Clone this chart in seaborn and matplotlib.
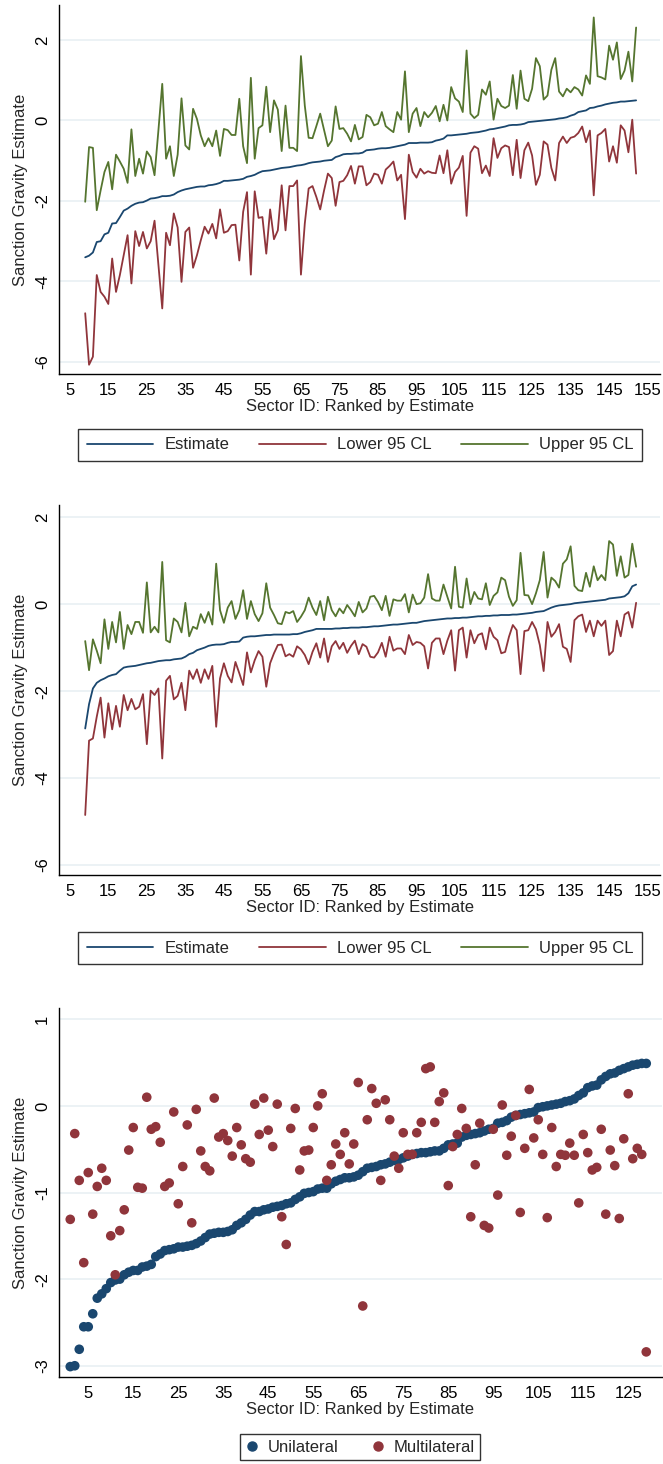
import numpy as np
import pandas as pd
import matplotlib
matplotlib.use("Agg")
import matplotlib.pyplot as plt
import seaborn as sns

# ---- data ----
sector = list(range(9, 153))

est_all = [-3.40, -3.36, -3.28, -3.02, -3.00, -2.83, -2.79, -2.56, -2.55, -2.40,
           -2.24, -2.19, -2.12, -2.07, -2.04, -2.03, -1.99, -1.94, -1.93, -1.91,
           -1.88, -1.88, -1.87, -1.84, -1.78, -1.74, -1.71, -1.69, -1.67, -1.65,
           -1.64, -1.64, -1.61, -1.60, -1.58, -1.55, -1.50, -1.50, -1.49, -1.48,
           -1.47, -1.45, -1.40, -1.38, -1.35, -1.30, -1.26, -1.25, -1.24, -1.22,
           -1.20, -1.18, -1.17, -1.16, -1.14, -1.12, -1.11, -1.09, -1.06, -1.04,
           -1.03, -1.02, -1.00, -0.99, -0.98, -0.91, -0.88, -0.84, -0.83, -0.83,
           -0.82, -0.82, -0.80, -0.74, -0.73, -0.72, -0.70, -0.69, -0.69, -0.68,
           -0.66, -0.64, -0.62, -0.60, -0.56, -0.56, -0.56, -0.55, -0.55, -0.55,
           -0.54, -0.50, -0.48, -0.45, -0.37, -0.37, -0.36, -0.35, -0.34, -0.33,
           -0.31, -0.30, -0.29, -0.27, -0.25, -0.22, -0.21, -0.19, -0.17, -0.15,
           -0.12, -0.11, -0.11, -0.10, -0.08, -0.04, -0.03, -0.02, -0.01, 0.00,
           0.01, 0.02, 0.03, 0.05, 0.06, 0.08, 0.12, 0.15, 0.21, 0.23,
           0.25, 0.31, 0.32, 0.35, 0.37, 0.40, 0.42, 0.44, 0.45, 0.47,
           0.47, 0.48, 0.49, 0.50]

lower_all = [-4.79, -6.07, -5.87, -3.84, -4.26, -4.38, -4.56, -3.43, -4.26, -3.84,
             -3.35, -2.85, -4.05, -2.75, -3.12, -2.77, -3.18, -3.00, -2.49, -3.58,
             -4.67, -2.79, -3.10, -2.31, -2.66, -4.01, -2.77, -2.66, -3.66, -3.35,
             -2.98, -2.64, -2.81, -2.57, -2.93, -2.21, -2.79, -2.75, -2.60, -2.59,
             -3.48, -2.27, -1.78, -3.83, -1.76, -2.42, -2.40, -3.31, -2.21, -2.95,
             -2.73, -1.61, -2.73, -1.63, -1.63, -1.49, -3.83, -2.56, -1.69, -1.63,
             -1.90, -2.21, -1.74, -1.32, -1.43, -2.12, -1.53, -1.50, -1.36, -1.13,
             -1.57, -1.14, -1.14, -1.61, -1.53, -1.32, -1.35, -1.57, -1.22, -1.13,
             -1.02, -1.49, -1.35, -2.45, -0.85, -1.28, -1.42, -1.20, -1.32, -1.26,
             -1.30, -1.31, -0.87, -1.31, -0.74, -1.57, -1.28, -1.17, -0.88, -2.37,
             -0.80, -0.64, -0.70, -1.31, -1.12, -1.38, -0.44, -0.93, -0.69, -0.62,
             -0.66, -1.36, -0.48, -1.43, -0.74, -0.55, -0.87, -1.60, -1.35, -0.52,
             -0.60, -1.18, -1.49, -0.56, -0.40, -0.56, -0.43, -0.40, -0.31, -0.15,
             -0.54, -0.25, -1.86, -0.37, -0.31, -0.21, -1.02, -0.64, -1.05, -0.12,
             -0.25, -0.79, 0.02, -1.32]

upper_all = [-2.02, -0.66, -0.68, -2.23, -1.74, -1.28, -1.03, -1.71, -0.85, -1.02,
             -1.20, -1.55, -0.22, -1.38, -0.95, -1.32, -0.77, -0.91, -1.36, -0.25,
             0.91, -0.95, -0.64, -1.38, -0.85, 0.55, -0.62, -0.72, 0.29, 0.04,
             -0.37, -0.64, -0.44, -0.64, -0.25, -0.88, -0.21, -0.24, -0.36, -0.36,
             0.54, -0.64, -1.06, 1.06, -0.95, -0.19, -0.12, 0.84, -0.29, 0.50,
             0.27, -0.76, 0.37, -0.68, -0.68, -0.76, 1.60, 0.37, -0.43, -0.44,
             -0.14, 0.17, -0.23, -0.64, -0.50, 0.35, -0.21, -0.19, -0.33, -0.52,
             -0.11, -0.47, -0.41, 0.14, 0.08, -0.12, -0.08, 0.21, -0.14, -0.22,
             -0.29, 0.21, 0.02, 1.22, -0.29, 0.17, 0.31, -0.14, 0.21, 0.08,
             0.19, 0.36, -0.02, 0.39, 0.00, 0.83, 0.55, 0.47, 0.21, 1.74,
             0.17, 0.06, 0.14, 0.77, 0.64, 0.97, 0.02, 0.54, 0.36, 0.31,
             0.37, 1.13, 0.29, 1.24, 0.54, 0.48, 0.79, 1.55, 1.35, 0.52,
             0.62, 1.26, 1.55, 0.72, 0.60, 0.79, 0.70, 0.83, 0.77, 0.62,
             1.12, 0.91, 2.56, 1.10, 1.07, 1.02, 1.86, 1.51, 1.94, 1.03,
             1.24, 1.71, 0.97, 2.31]

est_b = [-2.86, -2.30, -1.94, -1.81, -1.75, -1.71, -1.66, -1.63, -1.61, -1.53,
         -1.46, -1.44, -1.43, -1.42, -1.40, -1.38, -1.36, -1.35, -1.33, -1.31,
         -1.30, -1.29, -1.29, -1.27, -1.26, -1.25, -1.21, -1.15, -1.12, -1.06,
         -1.03, -1.00, -0.96, -0.94, -0.93, -0.93, -0.92, -0.89, -0.87, -0.87,
         -0.86, -0.77, -0.75, -0.74, -0.74, -0.73, -0.72, -0.71, -0.71, -0.70,
         -0.70, -0.70, -0.70, -0.70, -0.69, -0.69, -0.67, -0.64, -0.62, -0.60,
         -0.57, -0.57, -0.57, -0.57, -0.57, -0.56, -0.56, -0.55, -0.55, -0.54,
         -0.54, -0.54, -0.53, -0.53, -0.52, -0.51, -0.51, -0.50, -0.49, -0.48,
         -0.47, -0.47, -0.46, -0.45, -0.44, -0.43, -0.43, -0.41, -0.39, -0.38,
         -0.37, -0.36, -0.35, -0.34, -0.33, -0.33, -0.32, -0.32, -0.31, -0.31,
         -0.30, -0.29, -0.28, -0.28, -0.27, -0.27, -0.26, -0.26, -0.25, -0.25,
         -0.25, -0.24, -0.24, -0.23, -0.22, -0.21, -0.20, -0.18, -0.17, -0.16,
         -0.12, -0.08, -0.05, -0.03, -0.02, -0.01, 0.00, 0.02, 0.03, 0.04,
         0.05, 0.06, 0.07, 0.08, 0.09, 0.10, 0.13, 0.14, 0.15, 0.16,
         0.18, 0.25, 0.41, 0.45]

lower_b = [-4.85, -3.14, -3.09, -2.59, -2.15, -3.07, -2.28, -2.88, -2.34, -2.82,
           -2.09, -2.44, -2.18, -2.42, -2.36, -2.07, -3.22, -1.99, -2.09, -1.94,
           -3.55, -1.76, -1.65, -2.19, -2.11, -1.81, -2.44, -1.53, -1.72, -1.50,
           -1.81, -1.50, -1.72, -1.42, -2.82, -1.71, -1.36, -1.65, -1.80, -1.33,
           -1.59, -1.86, -1.11, -1.57, -1.29, -1.08, -1.21, -1.90, -1.36, -1.13,
           -0.94, -0.93, -1.20, -1.15, -1.21, -0.97, -1.04, -1.17, -1.38, -1.10,
           -0.90, -1.23, -0.79, -1.33, -0.97, -0.85, -1.03, -0.89, -1.12, -0.96,
           -0.84, -1.15, -0.92, -0.98, -1.21, -1.23, -1.11, -0.89, -1.21, -0.75,
           -1.07, -1.02, -1.02, -1.15, -0.71, -0.94, -0.87, -0.89, -0.97, -1.48,
           -0.89, -0.79, -0.79, -1.15, -0.84, -0.60, -1.53, -0.60, -0.54, -1.23,
           -0.60, -0.90, -0.71, -0.67, -1.04, -0.54, -0.75, -0.83, -1.13, -1.10,
           -0.75, -0.48, -0.60, -1.61, -0.62, -0.60, -0.41, -0.58, -0.94, -1.54,
           -0.41, -0.75, -0.64, -0.46, -0.98, -1.03, -1.33, -0.37, -0.28, -0.24,
           -0.64, -0.38, -0.74, -0.38, -0.50, -0.38, -1.17, -1.08, -0.38, -0.74,
           -0.24, -0.18, -0.54, 0.03]

upper_b = [-0.85, -1.52, -0.81, -1.07, -1.36, -0.35, -1.03, -0.41, -0.88, -0.18,
           -1.03, -0.48, -0.69, -0.41, -0.41, -0.66, 0.50, -0.65, -0.52, -0.65,
           0.97, -0.83, -0.88, -0.33, -0.41, -0.65, 0.03, -0.74, -0.52, -0.57,
           -0.23, -0.43, -0.18, -0.47, 0.93, -0.14, -0.43, -0.08, 0.07, -0.34,
           -0.14, 0.32, -0.34, 0.07, -0.23, -0.39, -0.21, 0.48, -0.08, -0.25,
           -0.44, -0.46, -0.18, -0.21, -0.16, -0.41, -0.29, -0.14, 0.15, -0.08,
           -0.25, 0.07, -0.37, 0.17, -0.14, -0.28, -0.10, -0.21, -0.02, -0.14,
           -0.28, 0.05, -0.19, -0.10, 0.17, 0.19, 0.05, -0.14, 0.19, -0.27,
           0.11, 0.08, 0.08, 0.23, -0.19, 0.22, 0.00, 0.02, 0.15, 0.69,
           0.13, 0.08, 0.08, 0.45, 0.17, -0.10, 0.86, -0.06, -0.08, 0.59,
           0.00, 0.28, 0.13, 0.11, 0.48, -0.02, 0.19, 0.27, 0.61, 0.55,
           0.17, -0.04, 0.09, 1.18, 0.21, 0.20, 0.00, 0.25, 0.55, 1.20,
           0.15, 0.61, 0.53, 0.38, 0.93, 1.03, 1.33, 0.42, 0.32, 0.30,
           0.72, 0.40, 0.87, 0.55, 0.67, 0.55, 1.45, 1.37, 0.65, 1.10,
           0.61, 0.67, 1.39, 0.86]

sector_c = list(range(1, 130))

unilateral = [-3.01, -3.00, -2.81, -2.55, -2.55, -2.40, -2.22, -2.17, -2.11, -2.04,
              -2.01, -2.00, -1.95, -1.92, -1.90, -1.90, -1.86, -1.85, -1.83, -1.74,
              -1.71, -1.67, -1.66, -1.65, -1.63, -1.63, -1.62, -1.61, -1.59, -1.56,
              -1.52, -1.48, -1.47, -1.46, -1.46, -1.45, -1.43, -1.38, -1.35, -1.31,
              -1.26, -1.22, -1.22, -1.20, -1.19, -1.17, -1.16, -1.15, -1.13, -1.12,
              -1.08, -1.05, -1.01, -1.00, -0.99, -0.96, -0.95, -0.95, -0.90, -0.87,
              -0.85, -0.83, -0.83, -0.82, -0.80, -0.76, -0.72, -0.71, -0.70, -0.68,
              -0.67, -0.65, -0.63, -0.62, -0.60, -0.58, -0.56, -0.55, -0.54, -0.54,
              -0.53, -0.52, -0.52, -0.49, -0.45, -0.44, -0.43, -0.36, -0.34, -0.33,
              -0.32, -0.31, -0.29, -0.27, -0.26, -0.20, -0.19, -0.17, -0.13, -0.11,
              -0.10, -0.09, -0.08, -0.07, -0.02, -0.01, 0.00, 0.01, 0.02, 0.03,
              0.05, 0.06, 0.08, 0.12, 0.15, 0.21, 0.23, 0.24, 0.30, 0.34,
              0.37, 0.38, 0.41, 0.43, 0.45, 0.47, 0.48, 0.49, 0.49]

multilateral = [-1.31, -0.32, -0.86, -1.81, -0.77, -1.25, -0.93, -0.72, -0.86, -1.50,
                -1.95, -1.44, -1.20, -0.51, -0.25, -0.94, -0.95, 0.10, -0.27, -0.24,
                -0.42, -0.93, -0.89, -0.07, -1.13, -0.70, -0.22, -1.35, -0.04, -0.52,
                -0.70, -0.75, 0.09, -0.36, -0.32, -0.40, -0.58, -0.25, -0.45, -0.61,
                -0.65, 0.02, -0.33, 0.09, -0.28, -0.47, 0.02, -1.28, -1.60, -0.26,
                -0.03, -0.74, -0.52, -0.51, -0.25, 0.00, 0.14, -0.86, -0.68, -0.44,
                -0.56, -0.31, -0.67, -0.44, 0.27, -2.31, -0.16, 0.20, 0.03, -0.86,
                0.07, -0.16, -0.58, -0.72, -0.31, -0.56, -0.56, -0.31, -0.19, 0.43,
                0.45, -0.19, 0.05, 0.15, -0.92, -0.47, -0.33, -0.03, -0.26, -1.28,
                -0.68, -0.20, -1.38, -1.41, -0.27, -1.03, 0.01, -0.57, -0.35, -0.11,
                -1.23, -0.49, 0.19, -0.37, -0.16, -0.56, -1.29, -0.25, -0.70, -0.56,
                -0.57, -0.43, -0.57, -1.12, -0.33, -0.54, -0.74, -0.71, -0.27, -1.25,
                -0.51, -0.69, -1.30, -0.38, 0.14, -0.61, -0.49, -0.56, -2.84]

line_ticks = list(range(5, 156, 10))
scatter_ticks = list(range(5, 126, 10))

# ---- style ----
sns.set_style("white")
plt.rcParams['font.family'] = ['Liberation Sans', 'DejaVu Sans']
plt.rcParams['axes.unicode_minus'] = False

navy = "#1a476f"
maroon = "#90353b"
green = "#55752f"
grid_col = "#e9f0f3"

W, H = 663, 1464
fig = plt.figure(figsize=(W / 100, H / 100), dpi=100)


def box(left, top, right, bottom):
    return [left / W, 1 - bottom / H, (right - left) / W, (bottom - top) / H]


def style_axis(ax, xticks, yticks):
    sns.despine(ax=ax)
    for side in ('left', 'bottom'):
        ax.spines[side].set_color('black')
        ax.spines[side].set_linewidth(1.0)
    ax.set_xticks(xticks)
    ax.set_yticks(yticks)
    ax.set_yticklabels([str(v) for v in yticks], rotation=90, va='center')
    ax.tick_params(axis='both', direction='out', length=4.5, width=1, labelsize=12,
                   colors='black', pad=2)
    ax.yaxis.grid(True, color=grid_col, linewidth=1.2)
    ax.xaxis.grid(False)
    ax.set_axisbelow(True)
    ax.set_xlabel('Sector ID: Ranked by Estimate', fontsize=12, labelpad=1)
    ax.set_ylabel('Sanction Gravity Estimate', fontsize=12, labelpad=5)


def line_panel(rect, est, lo, hi, ylim, leg_center):
    ax = fig.add_axes(rect)
    df = pd.DataFrame({'sector': sector, 'Estimate': est,
                       'Lower 95 CL': lo, 'Upper 95 CL': hi})
    long = df.melt(id_vars='sector', var_name='series', value_name='value')
    sns.lineplot(data=long, x='sector', y='value', hue='series',
                 palette=[navy, maroon, green], linewidth=1.3, ax=ax,
                 legend=False)
    ax.set_xlim(2.2, 158.2)
    ax.set_ylim(*ylim)
    style_axis(ax, line_ticks, [-6, -4, -2, 0, 2])
    handles = [plt.Line2D([], [], color=c, lw=1.3) for c in (navy, maroon, green)]
    leg = fig.legend(handles, ['Estimate', 'Lower 95 CL', 'Upper 95 CL'],
                     loc='center', bbox_to_anchor=leg_center, ncol=3,
                     frameon=True, fancybox=False, edgecolor='black', fontsize=12,
                     handlelength=4.0, handletextpad=0.65, columnspacing=1.8,
                     borderaxespad=0, borderpad=0.5)
    leg.get_frame().set_linewidth(1.0)
    return ax


line_panel(box(59, 5, 660, 374), est_all, lower_all, upper_all, (-6.3, 2.87),
           (360 / W, 1 - 445 / H))
line_panel(box(59, 505, 660, 875), est_b, lower_b, upper_b, (-6.23, 2.28),
           (360 / W, 1 - 948 / H))

# ---- scatter panel ----
ax3 = fig.add_axes(box(59, 1008, 662, 1377))
dfc = pd.DataFrame({'sector': sector_c, 'Unilateral': unilateral,
                    'Multilateral': multilateral})
longc = dfc.melt(id_vars='sector', var_name='type', value_name='value')
sns.scatterplot(data=longc, x='sector', y='value', hue='type',
                palette=[navy, maroon], s=48, linewidth=0, ax=ax3, legend=False)
ax3.set_xlim(-1.5, 132.5)
ax3.set_ylim(-3.13, 1.13)
style_axis(ax3, scatter_ticks, [-3, -2, -1, 0, 1])
mh = [plt.Line2D([], [], color=c, marker='o', ls='', markersize=6.5) for c in (navy, maroon)]
leg3 = fig.legend(mh, ['Unilateral', 'Multilateral'], loc='center',
                  bbox_to_anchor=(360 / W, 1 - 1447 / H), ncol=2, frameon=True,
                  fancybox=False, edgecolor='black', fontsize=12,
                  handlelength=0.8, handletextpad=0.5, columnspacing=2.0,
                  borderaxespad=0, borderpad=0.35)
leg3.get_frame().set_linewidth(1.0)

fig.savefig('out.png', dpi=100, facecolor='white')
